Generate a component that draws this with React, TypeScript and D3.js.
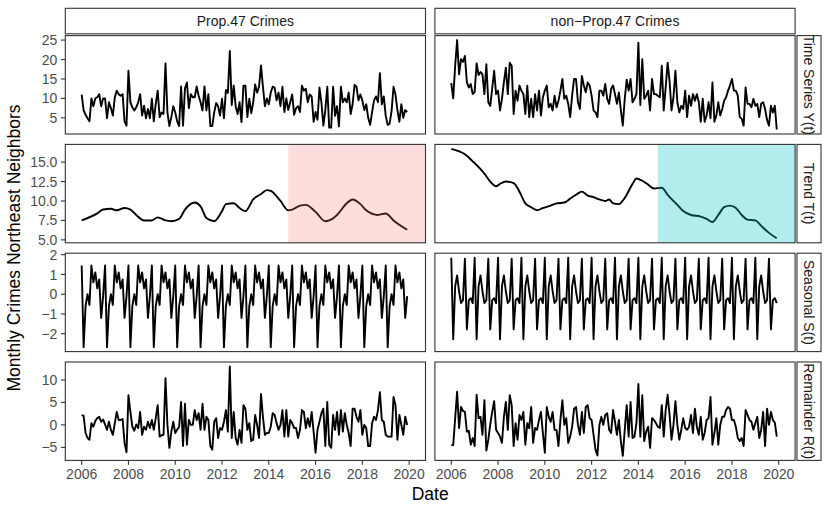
import React from 'react';
import * as d3 from 'd3';

// ---------------- data ----------------
const START_YEAR = 2006;
const columnLabels = ['Prop.47 Crimes', 'non\u2212Prop.47 Crimes'];
const rowLabels = ['Time Series Y(t)', 'Trend T(t)', 'Seasonal S(t)', 'Remainder R(t)'];
const xTickYears = [2006, 2008, 2010, 2012, 2014, 2016, 2018, 2020];
const prop47Start = 2014.833;

// monthly values Jan 2006 .. Dec 2019
const seriesProp47 = [
  11.0, 6.9, 5.8, 4.9, 4.1, 10.0, 8.0, 10.0, 10.3, 11.1,
  8.0, 10.0, 10.0, 4.9, 9.0, 7.5, 5.6, 10.3, 12.0, 11.1,
  10.7, 11.1, 4.1, 3.0, 17.1, 9.0, 7.7, 6.9, 7.7, 9.0,
  11.1, 5.6, 8.1, 4.9, 7.3, 4.9, 9.9, 4.1, 8.6, 12.0,
  5.2, 6.4, 6.0, 19.0, 6.4, 2.9, 5.2, 8.0, 6.4, 4.1,
  2.9, 13.1, 3.0, 12.6, 14.1, 7.5, 11.1, 10.3, 10.3, 13.1,
  10.7, 9.0, 6.9, 13.1, 6.9, 11.1, 2.9, 2.9, 6.4, 8.8,
  8.0, 5.6, 9.9, 4.9, 12.2, 11.4, 22.2, 8.3, 13.3, 8.0,
  6.0, 9.0, 3.9, 13.3, 13.3, 5.2,
  9.9, 6.2, 9.0, 13.6, 11.5, 13.0, 18.5, 13.0, 8.0, 10.0,
  8.5, 11.5, 13.0, 12.8, 9.5, 11.5, 8.0, 13.0, 6.5, 10.0,
  7.0, 9.0, 11.0, 5.8, 7.5, 8.0, 6.5, 13.3, 12.0, 12.5,
  9.0, 11.0, 10.5, 4.0, 6.5, 4.5, 12.8, 9.0, 3.0, 7.0,
  13.0, 2.5, 2.5, 13.0, 5.5, 8.0, 2.8, 13.0, 9.0, 10.0,
  9.0, 11.5, 6.0, 8.5, 13.5, 13.0, 9.5, 11.0, 9.5, 7.0,
  8.5, 5.0, 3.2, 6.5, 9.5, 10.5, 9.0, 16.5, 8.5, 10.5,
  5.5, 3.2, 3.5, 6.8, 13.0, 11.0, 7.0, 4.0, 8.5, 5.0,
  7.0, 6.5,
];
const seriesNonProp47 = [
  13.9, 10.0, 18.4, 25.0, 16.2, 20.1, 19.4, 20.9, 14.1, 12.8,
  13.7, 11.1, 11.7, 19.0, 16.0, 16.8, 16.2, 11.1, 18.8, 9.0,
  8.1, 12.6, 17.1, 11.1, 12.0, 6.9, 9.9, 14.1, 17.9, 11.1,
  19.2, 18.4, 6.0, 12.0, 9.4, 13.3, 12.0, 11.1, 6.0, 13.3,
  5.2, 9.9, 5.2, 11.1, 6.9, 12.0, 5.6, 10.3, 12.0, 13.3,
  7.7, 8.6, 6.9, 10.7, 7.7, 9.4, 12.0, 15.0, 9.9, 10.7,
  8.6, 5.2, 10.7, 15.0, 15.0, 9.0, 7.3, 15.8, 13.3, 11.6,
  14.1, 13.3, 10.7, 6.9, 6.4, 5.2, 12.0, 12.0, 10.7, 13.7,
  9.9, 8.6, 12.4, 13.3,
  11.1, 8.6, 11.5, 7.0, 3.0, 9.9, 14.8, 12.0, 15.0, 9.0,
  9.9, 11.1, 24.3, 8.3, 20.1, 9.9, 10.7, 12.0, 6.9, 15.0,
  11.1, 11.1, 10.7, 10.3, 18.4, 6.9, 12.8, 19.2, 14.4, 6.9,
  10.3, 17.1, 9.0, 6.4, 8.1, 7.3, 12.0, 5.2, 10.7, 8.1,
  11.1, 9.4, 11.1, 9.0, 4.0, 9.9, 4.0, 5.6, 9.0, 4.9,
  14.1, 4.0, 5.6, 9.0, 5.6, 7.3, 9.4, 10.3, 12.0, 13.3,
  15.0, 12.0, 12.0, 10.7, 5.2, 4.8, 3.0, 12.8, 8.6, 8.6,
  7.7, 9.9, 8.1, 8.6, 5.2, 8.6, 9.0, 7.3, 4.5, 3.0,
  8.1, 6.4, 8.1, 2.0,
];

// trend read at months (index from Jan 2006)
const trendMonthsProp47 = [0, 8, 11, 15, 18, 22, 25, 28, 32, 36, 39, 43, 46, 50, 53, 58, 61, 64, 68, 72, 74, 78, 81, 84, 88, 92, 95, 97, 102, 106, 108, 112, 115, 120, 125, 127, 131, 136, 139, 143, 146, 152, 156, 160, 167];
const trendProp47 = [7.5, 8.4, 8.9, 9.0, 8.8, 9.1, 8.9, 8.2, 7.5, 7.5, 7.9, 7.5, 7.4, 7.7, 8.9, 9.8, 9.3, 7.8, 7.4, 8.7, 9.6, 9.7, 9.1, 8.7, 10.2, 10.9, 11.4, 11.3, 10.0, 8.8, 8.9, 9.4, 9.5, 8.6, 7.4, 7.5, 8.2, 9.7, 10.2, 9.6, 8.8, 8.2, 8.4, 7.5, 6.3];
const trendMonthsNonProp47 = [0, 7, 11, 15, 17, 20, 23, 25, 28, 32, 35, 38, 41, 44, 47, 51, 54, 58, 61, 64, 67, 70, 73, 76, 79, 81, 83, 86, 89, 93, 95, 98, 101, 104, 108, 111, 116, 119, 123, 128, 131, 134, 137, 140, 143, 146, 149, 152, 156, 159, 163, 167];
const trendNonProp47 = [16.7, 16.0, 15.1, 14.1, 13.5, 12.5, 11.9, 12.2, 12.5, 12.3, 11.2, 9.7, 9.2, 8.8, 9.1, 9.4, 9.7, 9.8, 10.3, 10.8, 11.2, 10.7, 10.5, 10.2, 10.0, 10.2, 9.7, 9.6, 10.4, 12.2, 12.9, 12.6, 12.1, 11.6, 11.7, 10.8, 9.5, 8.7, 8.2, 8.0, 7.7, 7.3, 8.2, 9.2, 9.4, 9.1, 8.2, 7.6, 7.5, 6.8, 5.9, 5.2];

// periodic seasonal component, Jan..Dec
const seasonalProp47 = [1.45, -2.68, -0.6, 0.0, -0.55, 1.45, 0.6, 1.1, 0.3, 0.75, -1.2, -0.1];
const seasonalNonProp47 = [1.85, -2.28, 0.4, 0.95, 0.15, -0.45, -0.3, 1.8, -1.78, -0.3, -0.2, -0.45];

const remainderProp47 = [
  2.2, 2.0, -1.8, -2.9, -3.3, 0.4, -0.4, 0.9, 1.5, 1.8,
  0.7, 1.2, 0.1, -1.1, 0.7, -1.1, -2.2, 0.4, 2.9, 1.1,
  1.1, 1.3, -4.0, -6.1, 6.6, 2.9, -0.4, -1.3, 0.1, -0.7,
  2.9, -2.2, -0.4, -1.1, 0.7, -0.7, 1.1, -1.1, 1.5, 4.4,
  -2.6, -2.3, -2.2, 10.4, 0, -5.1, -1.5, 0.7, -1.8, -1.1,
  -0.4, 5.1, -4.7, 4.7, -4.4, 1.1, 0, 0, 3.3, 1.1,
  2.6, -1.1, 4.7, -1.1, 1.8, 1.1, -4.7, -5.5, 0.7, 1.5,
  -2.9, -0.7, -1.1, 0.7, 3.3, -1.5, 13.0, -2.9, 2.9, -2.9,
  -4.4, -1.1, -4.0, 4.4,
  3.6, -1.1, 0.4, -3.6, -3.3, 2.2, 0, -2.9, 6.9, 1.8,
  -2.2, -1.8, -1.8, -0.4, 2.6, 2.2, 0.4, -1.1, 0, 3.3,
  -2.6, 3.3, -2.6, 1.1, 0.4, -0.7, -0.7, -2.9, -1.1, 3.3,
  2.9, -0.7, 1.5, -0.4, 2.9, -1.5, -6.2, -1.1, 0.7, 2.6,
  3.6, -4.7, 5.1, -4.4, -5.1, 2.2, -1.1, 2.9, -2.2, 3.3,
  -1.5, 2.6, 0, -1.8, -4.7, 3.6, 3.6, 1.8, 0.7, 3.3,
  -2.2, 0, -0.7, -4.7, -4.7, 0.4, 1.8, 1.1, 3.3, 7.3,
  1.1, 0.7, -2.2, -2.6, -2.6, -2.6, 6.2, 4.4, -3.3, 2.2,
  0, -2.2, 1.8, 0,
];
const remainderNonProp47 = [
  -4.5, -4.5, 1.5, 7.4, -0.7, 4.0, 3.1, 2.9, -1.5, -1.3,
  -4.4, -2.9, -4.7, 6.7, 1.5, 1.8, -2.2, 5.5, -5.7, -3.3,
  0.1, 2.9, 5.3, -1.1, -1.8, -2.6, -4.0, 1.8, 5.1, -1.1,
  6.6, 4.4, -4.7, 0.4, -3.3, 2.2, 1.1, 2.9, -4.4, 0.4,
  -0.7, 4.0, -4.0, -0.7, -1.1, 1.1, 2.9, -1.8, -6.2, 4.0,
  1.8, 0.7, 2.9, -1.1, -1.1, -4.7, 1.1, 5.5, 0, 1.5,
  -4.0, -2.6, -0.4, 3.6, 4.0, 0, -2.2, 2.9, -1.8, 4.0,
  4.4, 1.5, 1.1, -2.2, -5.5, -6.8, 0, 1.8, 0, 2.2,
  2.6, -1.1, -1.8, 3.3,
  0.7, -2.2, 1.1, -3.6, -6.9, -1.1, 4.4, -2.6, 5.1, -2.9,
  -2.6, 0.4, 9.1, -2.6, 6.6, -3.6, -1.5, -0.4, -5.1, 1.5,
  1.1, 0.4, -0.4, -0.7, 4.4, -2.6, 3.3, 6.7, 2.2, -3.3,
  0, 5.3, 0, -3.3, -1.1, 1.5, -0.7, -1.1, -0.4, 2.2,
  -1.8, 3.6, -0.4, -2.2, 1.8, -3.3, -1.8, 1.1, 1.5, 6.2,
  -4.4, -1.8, 1.5, -4.4, 0, 1.8, 1.8, 3.3, 4.0, 3.6,
  1.1, 1.1, -0.4, -2.9, -3.6, -2.9, -4.7, 3.3, 2.2, 1.1,
  0.7, -1.1, 0.4, 1.8, -2.9, -1.1, 2.9, -4.7, 3.6, 0,
  2.9, 1.1, 0.5, -2.6,
];

const yTicksByRow = [
  [5, 10, 15, 20, 25],
  [5, 7.5, 10, 12.5, 15],
  [-2, -1, 0, 1, 2],
  [-5, 0, 5, 10],
];
const yTickDigits = [0, 1, 0, 0];

// ---------------- layout ----------------
const W = 830;
const H = 513;
const panelX = [65.3, 434.9];
const panelW = 360.2;
const panelY = [35.6, 144.4, 253.2, 362.0];
const panelH = 98.4;
const stripTop = 8.3;
const stripBottom = 33.8;
const rStripX = 797;
const rStripW = 24;
const xDomain = [2005.3, 2020.7];
const highlightFill = ['#F8766D', '#00BFC4'];
const highlightOpacity = [0.24, 0.3];
const FONT = '"Liberation Sans", Arial, Helvetica, sans-serif';

type Pt = [number, number];
const toYear = (i: number) => START_YEAR + i / 12;

function monthly(values: number[]): Pt[] {
  return values.map((v, i) => [toYear(i), v]);
}
function knots(months: number[], values: number[]): Pt[] {
  return months.map((m, i) => [toYear(m), values[i]]);
}
function periodic(season: number[], n: number): Pt[] {
  return d3.range(n).map((i) => [toYear(i), season[i % 12]]);
}

const N = seriesProp47.length;
const panelData: Pt[][][] = [
  [monthly(seriesProp47), monthly(seriesNonProp47)],
  [knots(trendMonthsProp47, trendProp47), knots(trendMonthsNonProp47, trendNonProp47)],
  [periodic(seasonalProp47, N), periodic(seasonalNonProp47, N)],
  [monthly(remainderProp47), monthly(remainderNonProp47)],
];

function fmtMinus(s: string) {
  return s.replace('-', '\u2212');
}

export default function App() {
  const x = d3.scaleLinear().domain(xDomain).range([0, panelW]);
  const yScales = panelData.map((row) => {
    const all = row.flat().map((d) => d[1]);
    const [lo, hi] = d3.extent(all) as [number, number];
    const pad = (hi - lo) * 0.05;
    return d3.scaleLinear().domain([lo - pad, hi + pad]).range([panelH, 0]);
  });

  const tickLen = 4.4;
  const axisColor = '#333333';
  const textColor = '#4D4D4D';

  return (
    <svg
      width={W}
      height={H}
      viewBox={`0 0 ${W} ${H}`}
      style={{ position: 'absolute', left: 0, top: 0, background: '#fff' }}
      fontFamily={FONT}
    >
      <rect x={0} y={0} width={W} height={H} fill="#fff" />
      {/* top strips */}
      {columnLabels.map((lab, c) => (
        <g key={'ts' + c}>
          <rect
            x={panelX[c]}
            y={stripTop}
            width={panelW}
            height={stripBottom - stripTop}
            fill="#fff"
            stroke={axisColor}
            strokeWidth={1.1}
          />
          <text
            x={panelX[c] + panelW / 2}
            y={(stripTop + stripBottom) / 2 + 5}
            textAnchor="middle"
            fontSize={14}
            fill="#1A1A1A"
          >
            {lab}
          </text>
        </g>
      ))}
      {/* right strips */}
      {rowLabels.map((lab, r) => (
        <g key={'rs' + r}>
          <rect
            x={rStripX}
            y={panelY[r]}
            width={rStripW}
            height={panelH}
            fill="#fff"
            stroke={axisColor}
            strokeWidth={1.1}
          />
          <text
            transform={`translate(${rStripX + rStripW / 2 - 5},${panelY[r] + panelH / 2}) rotate(90)`}
            textAnchor="middle"
            fontSize={14}
            fill="#1A1A1A"
          >
            {lab}
          </text>
        </g>
      ))}
      {/* panels */}
      {panelData.map((row, r) =>
        row.map((pts, c) => {
          const y = yScales[r];
          const line = d3
            .line<Pt>()
            .x((d) => x(d[0]))
            .y((d) => y(d[1]));
          if (r === 1) line.curve(d3.curveMonotoneX);
          const hx = x(prop47Start);
          return (
            <g key={`p${r}-${c}`} transform={`translate(${panelX[c]},${panelY[r]})`}>
              <path d={line(pts) ?? ''} fill="none" stroke="#000" strokeWidth={1.9} strokeLinejoin="round" />
              {r === 1 && (
                <rect
                  x={hx}
                  y={0}
                  width={panelW - hx}
                  height={panelH}
                  fill={highlightFill[c]}
                  fillOpacity={highlightOpacity[c]}
                />
              )}
              <rect x={0} y={0} width={panelW} height={panelH} fill="none" stroke={axisColor} strokeWidth={1.1} />
              {/* y axis on left column */}
              {c === 0 &&
                yTicksByRow[r].map((t) => (
                  <g key={'yt' + t} transform={`translate(0,${y(t)})`}>
                    <line x1={-tickLen} x2={0} stroke={axisColor} strokeWidth={1.1} />
                    <text x={-tickLen - 3.5} dy="0.36em" textAnchor="end" fontSize={14} fill={textColor}>
                      {fmtMinus(t.toFixed(yTickDigits[r]))}
                    </text>
                  </g>
                ))}
              {/* x axis on bottom row */}
              {r === 3 &&
                xTickYears.map((t) => (
                  <g key={'xt' + t} transform={`translate(${x(t)},${panelH})`}>
                    <line y1={0} y2={tickLen} stroke={axisColor} strokeWidth={1.1} />
                    <text y={tickLen + 3.5 + 11} textAnchor="middle" fontSize={14} fill={textColor}>
                      {t}
                    </text>
                  </g>
                ))}
            </g>
          );
        })
      )}
      {/* axis titles */}
      <text
        x={(panelX[0] + panelX[1] + panelW) / 2}
        y={500}
        textAnchor="middle"
        fontSize={17.5}
        fill="#000"
      >
        Date
      </text>
      <text
        transform={`translate(20,${(panelY[0] + panelY[3] + panelH) / 2}) rotate(-90)`}
        textAnchor="middle"
        fontSize={17.5}
        fill="#000"
      >
        Monthly Crimes Northeast Neighbors
      </text>
    </svg>
  );
}
